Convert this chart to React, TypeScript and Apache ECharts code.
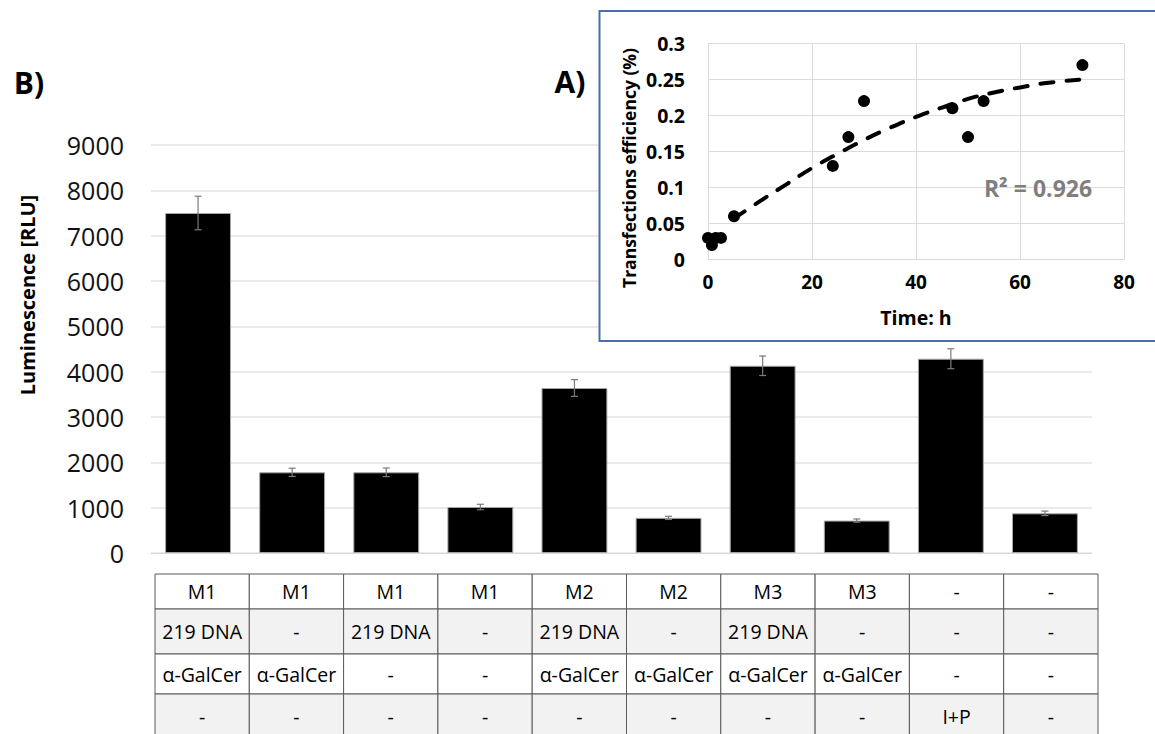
import React, { useEffect, useRef } from 'react';
import * as echarts from 'echarts';

// ---- Main bar chart data (B) ----
const conditions = ['C1', 'C2', 'C3', 'C4', 'C5', 'C6', 'C7', 'C8', 'C9', 'C10'];
const luminescence = [7500, 1780, 1780, 1015, 3640, 775, 4130, 715, 4285, 875];
const luminescenceErr = [370, 90, 95, 60, 185, 35, 215, 35, 220, 50];

// ---- Table rows under the bars ----
const rowMaterial = ['M1', 'M1', 'M1', 'M1', 'M2', 'M2', 'M3', 'M3', '-', '-'];
const rowDNA = ['219 DNA', '-', '219 DNA', '-', '219 DNA', '-', '219 DNA', '-', '-', '-'];
const rowAdjuvant = ['α-GalCer', 'α-GalCer', '-', '-', 'α-GalCer', 'α-GalCer', 'α-GalCer', 'α-GalCer', '-', '-'];
const rowStimulus = ['-', '-', '-', '-', '-', '-', '-', '-', 'I+P', '-'];

// ---- Inset scatter data (A) ----
const timeH = [0, 0.75, 1.5, 2.5, 5, 24, 27, 30, 47, 50, 53, 72];
const efficiency = [0.03, 0.02, 0.03, 0.03, 0.06, 0.13, 0.17, 0.22, 0.21, 0.17, 0.22, 0.27];
// Trend line
const trendTime = [5, 10, 15, 20, 25, 30, 35, 40, 45, 50, 55, 60, 65, 72];
const trendValue = [0.057, 0.081, 0.104, 0.127, 0.147, 0.166, 0.183, 0.198, 0.211, 0.223, 0.232, 0.239, 0.245, 0.25];

const FONT = '"Open Sans", "Noto Sans", sans-serif';

export default function App() {
  const ref = useRef<HTMLDivElement>(null);

  useEffect(() => {
    const chart = echarts.init(ref.current!, null, { renderer: 'svg' });

    // table layout
    const tableLeft = 155;
    const colW = 94.3;
    const rowTops = [574, 609, 654, 694];
    const rowBottoms = [609, 654, 694, 745];
    const rows = [rowMaterial, rowDNA, rowAdjuvant, rowStimulus];
    const rowFill = ['#ffffff', '#f2f2f2', '#ffffff', '#f2f2f2'];
    const tableEls: any[] = [];
    rows.forEach((row, r) => {
      row.forEach((txt, c) => {
        const x = tableLeft + c * colW;
        tableEls.push({
          type: 'rect',
          shape: { x, y: rowTops[r], width: colW, height: rowBottoms[r] - rowTops[r] },
          style: { fill: rowFill[r], stroke: '#5a5a5a', lineWidth: 1 },
          z: 1,
        });
        tableEls.push({
          type: 'text',
          x: x + colW / 2,
          y: r === 3 ? 716 : (rowTops[r] + rowBottoms[r]) / 2,
          style: {
            text: txt,
            font: `19.5px ${FONT}`,
            fill: '#000',
            textAlign: 'center',
            textVerticalAlign: 'middle',
            align: 'center',
            verticalAlign: 'middle',
          },
          z: 2,
        });
      });
    });

    const option: any = {
      animation: false,
      backgroundColor: '#ffffff',
      grid: [
        { left: 151, top: 145, width: 941, height: 408, containLabel: false },
        { left: 708, top: 43.5, width: 416, height: 216, containLabel: false, z: 10 },
      ],
      xAxis: [
        {
          type: 'category',
          gridIndex: 0,
          data: conditions,
          axisLabel: { show: false },
          axisTick: { show: false },
          axisLine: { show: true, lineStyle: { color: '#d9d9d9', width: 1 } },
          splitLine: { show: false },
        },
        {
          type: 'value',
          gridIndex: 1,
          min: 0,
          max: 80,
          interval: 20,
          z: 10,
          axisLabel: { fontFamily: FONT, fontWeight: 'bold', fontSize: 19, color: '#000', margin: 13 },
          axisTick: { show: false },
          axisLine: { show: true, lineStyle: { color: '#d9d9d9', width: 1 } },
          splitLine: { show: true, lineStyle: { color: '#dcdcdc', width: 1 } },
        },
      ],
      yAxis: [
        {
          type: 'value',
          gridIndex: 0,
          min: 0,
          max: 9000,
          interval: 1000,
          axisLabel: {
            fontFamily: FONT,
            fontSize: 25,
            color: '#111',
            margin: 27,
            formatter: (v: number) => String(v),
          },
          axisTick: { show: false },
          axisLine: { show: false },
          splitLine: { show: true, lineStyle: { color: '#e3e3e3', width: 1.5 } },
        },
        {
          type: 'value',
          gridIndex: 1,
          min: 0,
          max: 0.3,
          interval: 0.05,
          z: 10,
          axisLabel: {
            fontFamily: FONT,
            fontWeight: 'bold',
            fontSize: 19.5,
            color: '#000',
            margin: 23,
            formatter: (v: number) => String(Math.round(v * 100) / 100),
          },
          axisTick: { show: false },
          axisLine: { show: false },
          splitLine: { show: true, lineStyle: { color: '#dcdcdc', width: 1 } },
        },
      ],
      series: [
        {
          type: 'bar',
          xAxisIndex: 0,
          yAxisIndex: 0,
          data: luminescence,
          barWidth: '70%',
          itemStyle: { color: '#000000', borderColor: '#a6a6a6', borderWidth: 1 },
          z: 2,
        },
        {
          type: 'custom',
          xAxisIndex: 0,
          yAxisIndex: 0,
          data: luminescence.map((v, i) => [i, v - luminescenceErr[i], v + luminescenceErr[i]]),
          renderItem: (params: any, api: any) => {
            const xi = api.value(0);
            const lo = api.coord([xi, api.value(1)]);
            const hi = api.coord([xi, api.value(2)]);
            const hw = 3.5;
            const style = { stroke: '#7a7a7a', lineWidth: 1.2, fill: null };
            return {
              type: 'group',
              children: [
                { type: 'line', shape: { x1: lo[0], y1: lo[1], x2: hi[0], y2: hi[1] }, style },
                { type: 'line', shape: { x1: hi[0] - hw, y1: hi[1], x2: hi[0] + hw, y2: hi[1] }, style },
                { type: 'line', shape: { x1: lo[0] - hw, y1: lo[1], x2: lo[0] + hw, y2: lo[1] }, style },
              ],
            };
          },
          z: 3,
        },
        {
          type: 'line',
          xAxisIndex: 1,
          yAxisIndex: 1,
          data: trendTime.map((t, i) => [t, trendValue[i]]),
          smooth: true,
          showSymbol: false,
          symbol: 'none',
          lineStyle: { color: '#000', width: 4, type: [13, 13], cap: 'round' },
          z: 12,
        },
        {
          type: 'scatter',
          xAxisIndex: 1,
          yAxisIndex: 1,
          data: timeH.map((t, i) => [t, efficiency[i]]),
          symbolSize: 12,
          itemStyle: { color: '#000', opacity: 1 },
          z: 13,
        },
      ],
      graphic: [
        {
          type: 'rect',
          shape: { x: 599.5, y: 11, width: 570, height: 330 },
          style: { fill: '#ffffff', stroke: '#4a6ea8', lineWidth: 2 },
          z: 5,
        },
        {
          type: 'text',
          x: 29,
          y: 82,
          style: { text: 'B)', font: `bold 30px ${FONT}`, fill: '#000', textAlign: 'center', textVerticalAlign: 'middle', align: 'center', verticalAlign: 'middle' },
          z: 20,
        },
        {
          type: 'text',
          x: 570,
          y: 81,
          style: { text: 'A)', font: `bold 30px ${FONT}`, fill: '#000', textAlign: 'center', textVerticalAlign: 'middle', align: 'center', verticalAlign: 'middle' },
          z: 20,
        },
        {
          type: 'text',
          x: 27,
          y: 295,
          rotation: Math.PI / 2,
          style: { text: 'Luminescence [RLU]', font: `bold 20px ${FONT}`, fill: '#000', textAlign: 'center', textVerticalAlign: 'middle', align: 'center', verticalAlign: 'middle' },
          z: 20,
        },
        {
          type: 'text',
          x: 629,
          y: 168,
          rotation: Math.PI / 2,
          style: { text: 'Transfections efficiency (%)', font: `bold 17.5px ${FONT}`, fill: '#000', textAlign: 'center', textVerticalAlign: 'middle', align: 'center', verticalAlign: 'middle' },
          z: 20,
        },
        {
          type: 'text',
          x: 916,
          y: 317,
          style: { text: 'Time: h', font: `bold 19.5px ${FONT}`, fill: '#000', textAlign: 'center', textVerticalAlign: 'middle', align: 'center', verticalAlign: 'middle' },
          z: 20,
        },
        {
          type: 'text',
          x: 1038,
          y: 188,
          style: { text: 'R² = 0.926', font: `bold 23px ${FONT}`, fill: '#7f7f7f', textAlign: 'center', textVerticalAlign: 'middle', align: 'center', verticalAlign: 'middle' },
          z: 20,
        },
        ...tableEls,
      ],
    };

    chart.setOption(option);
    return () => chart.dispose();
  }, []);

  return (
    <div
      ref={ref}
      style={{ position: 'absolute', left: 0, top: 0, width: 1155, height: 734, background: '#fff' }}
    />
  );
}
